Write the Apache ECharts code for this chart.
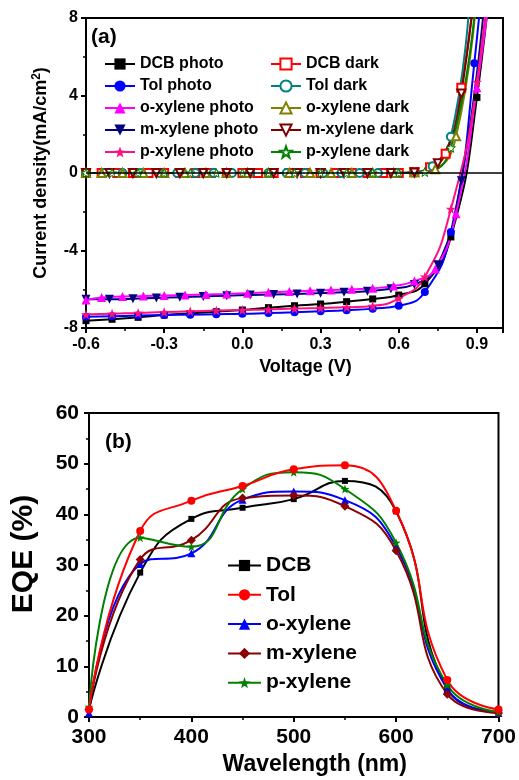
<!DOCTYPE html>
<html><head><meta charset="utf-8">
<script src="https://cdn.jsdelivr.net/npm/echarts@6/dist/echarts.min.js"></script>
<style>html,body{margin:0;padding:0;background:#fff}#c{width:519px;height:780px}</style>
</head><body><div id="c"></div>
<script>
const FONT = '"Liberation Sans", Arial, Helvetica, sans-serif';

// ---------- (a) J–V curves ----------
const vDCBphoto = [-0.6,-0.5,-0.4,-0.3,-0.2,-0.1,0,0.1,0.2,0.3,0.4,0.5,0.6,0.7,0.8,0.9,1.0];
const jDCBphoto = [-7.62,-7.55,-7.45,-7.33,-7.25,-7.16,-7.07,-6.95,-6.85,-6.76,-6.64,-6.5,-6.3,-5.72,-3.3,3.9,17];
const vTolphoto = [-0.6,-0.5,-0.4,-0.3,-0.2,-0.1,0,0.1,0.2,0.3,0.4,0.5,0.6,0.7,0.8,0.89,0.99];
const jTolphoto = [-7.42,-7.39,-7.36,-7.33,-7.31,-7.29,-7.27,-7.23,-7.19,-7.14,-7.08,-7.0,-6.85,-6.14,-3.05,5.67,21];
const vOxyphoto = [-0.6,-0.54,-0.46,-0.38,-0.3,-0.22,-0.14,-0.06,0.02,0.1,0.18,0.26,0.34,0.42,0.5,0.58,0.66,0.74,0.82,0.9,0.98];
const jOxyphoto = [-6.55,-6.42,-6.38,-6.35,-6.32,-6.3,-6.27,-6.24,-6.2,-6.16,-6.12,-6.08,-6.04,-6.0,-5.95,-5.83,-5.58,-4.95,-2.1,4.4,12.6];
const vMxyphoto = [-0.6,-0.51,-0.42,-0.33,-0.24,-0.15,-0.06,0.03,0.12,0.21,0.3,0.39,0.48,0.57,0.66,0.75,0.84,0.93];
const jMxyphoto = [-6.52,-6.52,-6.49,-6.45,-6.41,-6.37,-6.33,-6.3,-6.27,-6.24,-6.2,-6.16,-6.1,-5.97,-5.75,-4.74,-0.4,9.0];
const vPxyphoto = [-0.6,-0.5,-0.4,-0.3,-0.2,-0.1,0,0.1,0.2,0.3,0.4,0.5,0.6,0.7,0.8,0.9,1.0];
const jPxyphoto = [-7.3,-7.27,-7.22,-7.18,-7.14,-7.1,-7.07,-7.04,-7.0,-6.97,-6.93,-6.86,-6.47,-5.35,-1.86,4.7,18];

const vDCBdark = [-0.6,-0.54,-0.48,-0.42,-0.36,-0.3,-0.24,-0.18,-0.12,-0.06,0,0.06,0.12,0.18,0.24,0.3,0.36,0.42,0.48,0.54,0.6,0.66,0.72,0.78,0.84,0.9];
const jDCBdark = [0,0,0,0,0,0,0,0,0,0,0,0,0,0,0,0,0,0,0,0,0,0.05,0.3,1.0,4.4,10.6];
const vToldark = [-0.6,-0.53,-0.46,-0.39,-0.32,-0.25,-0.18,-0.11,-0.04,0.03,0.1,0.17,0.24,0.31,0.38,0.45,0.52,0.59,0.66,0.73,0.8,0.87];
const jToldark = [0,0,0,0,0,0,0,0,0,0,0,0,0,0,0,0,0,0,0.03,0.35,1.87,8.6];
const vOxydark = [-0.6,-0.54,-0.46,-0.38,-0.3,-0.22,-0.14,-0.06,0.02,0.1,0.18,0.26,0.34,0.42,0.5,0.58,0.66,0.74,0.82,0.9];
const jOxydark = [0,0,0,0,0,0,0,0,0,0,0,0,0,0,0,0,0.02,0.2,1.9,9.4];
const vMxydark = [-0.6,-0.51,-0.42,-0.33,-0.24,-0.15,-0.06,0.03,0.12,0.21,0.3,0.39,0.48,0.57,0.66,0.75,0.84,0.93];
const jMxydark = [0,0,0,0,0,0,0,0,0,0,0,0,0,0,0.03,0.5,4.1,16];
const vPxydark = [-0.6,-0.5,-0.4,-0.3,-0.2,-0.1,0,0.1,0.2,0.3,0.4,0.5,0.6,0.7,0.8,0.9];
const jPxydark = [0,0,0,0,0,0,0,0,0,0,0,0,0,0.05,1.3,9.7];

const photoNames = ['DCB photo','Tol photo','o-xylene photo','m-xylene photo','p-xylene photo'];
const darkNames  = ['DCB dark','Tol dark','o-xylene dark','m-xylene dark','p-xylene dark'];

// ---------- (b) EQE spectra ----------
const wavelengths = [300,350,400,450,500,550,600,650,700];
const eqeDCB  = [1.5,28.5,39.1,41.3,43.0,46.6,40.6,5.5,1.0];
const eqeTol  = [1.5,36.7,42.7,45.6,48.9,49.7,40.7,7.3,1.5];
const eqeOxy  = [0.8,30.2,32.3,42.9,44.5,42.8,33.6,5.5,0.8];
const eqeMxy  = [1.5,31.1,34.9,43.2,43.7,41.6,32.8,4.5,0.8];
const eqePxy  = [2.0,35.4,33.6,45.0,48.3,45.0,34.4,6.3,1.0];
const eqeNames = ['DCB','Tol','o-xylene','m-xylene','p-xylene'];

const STAR = 'path://M0,-10 L2.35,-3.24 9.51,-3.09 3.8,1.24 5.88,8.09 0,4 -5.88,8.09 -3.8,1.24 -9.51,-3.09 -2.35,-3.24Z';

function pairs(xs, ys){ return xs.map((x,i)=>[x, ys[i]]); }

function jvSeries(name, xs, ys, color, symbol, opts){
  opts = opts || {};
  return Object.assign({
    name, type:'line', xAxisIndex:0, yAxisIndex:0,
    data: pairs(xs, ys), smooth: 0.5,
    symbol, symbolSize: 8, clip: true,
    itemStyle: {color: color, borderWidth: 0},
    lineStyle: {color: color, width: 2},
    emphasis: {disabled: true}, animation: false
  }, opts);
}
function openStyle(color){ return {itemStyle:{color:'#fff', borderColor: color, borderWidth:1}}; }

const series = [
  jvSeries('DCB dark', vDCBdark, jDCBdark, '#ff0000', 'emptyRect', {itemStyle:{color:'#ff0000', borderWidth:1}, markLine:{silent:true, symbol:['none','none'], label:{show:false}, lineStyle:{color:'#000', width:1.5, type:'solid'}, data:[{yAxis:0}]}}),
  jvSeries('Tol dark', vToldark, jToldark, '#008080', 'emptyCircle', {itemStyle:{color:'#008080', borderWidth:1}}),
  jvSeries('o-xylene dark', vOxydark, jOxydark, '#808000', 'emptyTriangle', {itemStyle:{color:'#808000', borderWidth:1}}),
  jvSeries('m-xylene dark', vMxydark, jMxydark, '#800000', 'emptyTriangle', {symbolRotate:180, itemStyle:{color:'#800000', borderWidth:1}}),
  jvSeries('p-xylene dark', vPxydark, jPxydark, '#008000', STAR, Object.assign({symbolSize:9}, openStyle('#008000'))),
  jvSeries('DCB photo', vDCBphoto, jDCBphoto, '#000000', 'rect', {symbolSize:7}),
  jvSeries('Tol photo', vTolphoto, jTolphoto, '#0000ff', 'circle'),
  jvSeries('m-xylene photo', vMxyphoto, jMxyphoto, '#000080', 'triangle', {symbolRotate:180, symbolSize:9}),
  jvSeries('o-xylene photo', vOxyphoto, jOxyphoto, '#ff00ff', 'triangle', {symbolSize:9}),
  jvSeries('p-xylene photo', vPxyphoto, jPxyphoto, '#ff1080', STAR, {symbolSize:10}),
];

function eqeSeries(name, ys, color, symbol, size){
  return {
    name, type:'line', xAxisIndex:1, yAxisIndex:1,
    data: pairs(wavelengths, ys), smooth: 0.5,
    symbol, symbolSize: size, clip:true,
    itemStyle:{color: color, borderWidth:0}, lineStyle:{color: color, width:2},
    emphasis:{disabled:true}, animation:false
  };
}
series.push(
  eqeSeries('DCB', eqeDCB, '#000000', 'rect', 6),
  eqeSeries('o-xylene', eqeOxy, '#0000ff', 'triangle', 8),
  eqeSeries('m-xylene', eqeMxy, '#8b0000', 'diamond', 9),
  eqeSeries('p-xylene', eqePxy, '#008000', STAR, 9),
  eqeSeries('Tol', eqeTol, '#ff0000', 'circle', 8)
);

const black = '#000';
function axisCommon(fs, margin){
  return {
    axisLine:{show:true, onZero:false, lineStyle:{color:black, width:2}},
    axisTick:{show:true, inside:false, length:5, lineStyle:{color:black, width:2}},
    minorTick:{show:true, splitNumber:2, length:3, lineStyle:{color:black, width:1.5}},
    splitLine:{show:false}, minorSplitLine:{show:false},
    axisLabel:{color:black, fontSize:fs, fontWeight:'bold', fontFamily:FONT, margin: margin}
  };
}

const option = {
  backgroundColor:'#fff',
  animation:false,
  title:[
    {text:'(a)', left:91, top:27, padding:0, textStyle:{fontSize:21, fontWeight:'bold', color:black, fontFamily:FONT}},
    {text:'(b)', left:105, top:432, padding:0, textStyle:{fontSize:21, fontWeight:'bold', color:black, fontFamily:FONT}}
  ],
  grid:[
    {left:86, right:16, top:18, height:310, show:true, borderColor:black, borderWidth:2, backgroundColor:'transparent'},
    {left:89, right:20, top:413, height:304, show:true, borderColor:black, borderWidth:2, backgroundColor:'transparent'}
  ],
  xAxis:[
    Object.assign(axisCommon(16, 9), {
      gridIndex:0, type:'value', min:-0.6, max:1.0, interval:0.3,
      name:'Voltage (V)', nameLocation:'middle', nameGap:30,
      nameTextStyle:{color:black, fontSize:18, fontWeight:'bold', fontFamily:FONT, padding:[0,0,0,22]}
    }),
    Object.assign(axisCommon(21, 10), {
      gridIndex:1, type:'value', min:300, max:700, interval:100,
      name:'Wavelength (nm)', nameLocation:'middle', nameGap:36,
      nameTextStyle:{color:black, fontSize:23, fontWeight:'bold', fontFamily:FONT, padding:[0,0,0,42]}
    })
  ],
  yAxis:[
    Object.assign(axisCommon(16, 8), {
      gridIndex:0, type:'value', min:-8, max:8, interval:4,
      name:'Current density(mA/cm{sup|2})', nameLocation:'middle', nameGap:35,
      nameTextStyle:{color:black, fontSize:18, fontWeight:'bold', fontFamily:FONT,
        rich:{sup:{fontSize:12, fontWeight:'bold', fontFamily:FONT, color:black, verticalAlign:'top', padding:[0,0,8,0]}}}
    }),
    Object.assign(axisCommon(21, 10), {
      gridIndex:1, type:'value', min:0, max:60, interval:10,
      name:'EQE (%)', nameLocation:'middle', nameGap:50,
      nameTextStyle:{color:black, fontSize:30, fontWeight:'bold', fontFamily:FONT, padding:[0,0,0,22]}
    })
  ],
  legend:[
    {data:photoNames, orient:'vertical', left:104, top:56, itemWidth:30, itemHeight:14, itemGap:6, padding:0, selectedMode:false,
      textStyle:{fontSize:16, fontWeight:'bold', color:black, fontFamily:FONT}},
    {data:darkNames, orient:'vertical', left:270, top:56, itemWidth:30, itemHeight:14, itemGap:6, padding:0, selectedMode:false,
      textStyle:{fontSize:16, fontWeight:'bold', color:black, fontFamily:FONT}},
    {data:eqeNames, orient:'vertical', left:227, top:555, itemWidth:33, itemHeight:14, itemGap:8.3, padding:0, selectedMode:false,
      textStyle:{fontSize:21, fontWeight:'bold', color:black, fontFamily:FONT}}
  ],
  series: series
};
option.xAxis[0].axisLabel.showMaxLabel = false;
option.xAxis[0].axisLabel.formatter = v => Math.abs(v) < 1e-9 ? '0.0' : v.toFixed(1);

const chart = echarts.init(document.getElementById('c'), null, {renderer:'canvas'});
chart.setOption(option);
</script></body></html>
